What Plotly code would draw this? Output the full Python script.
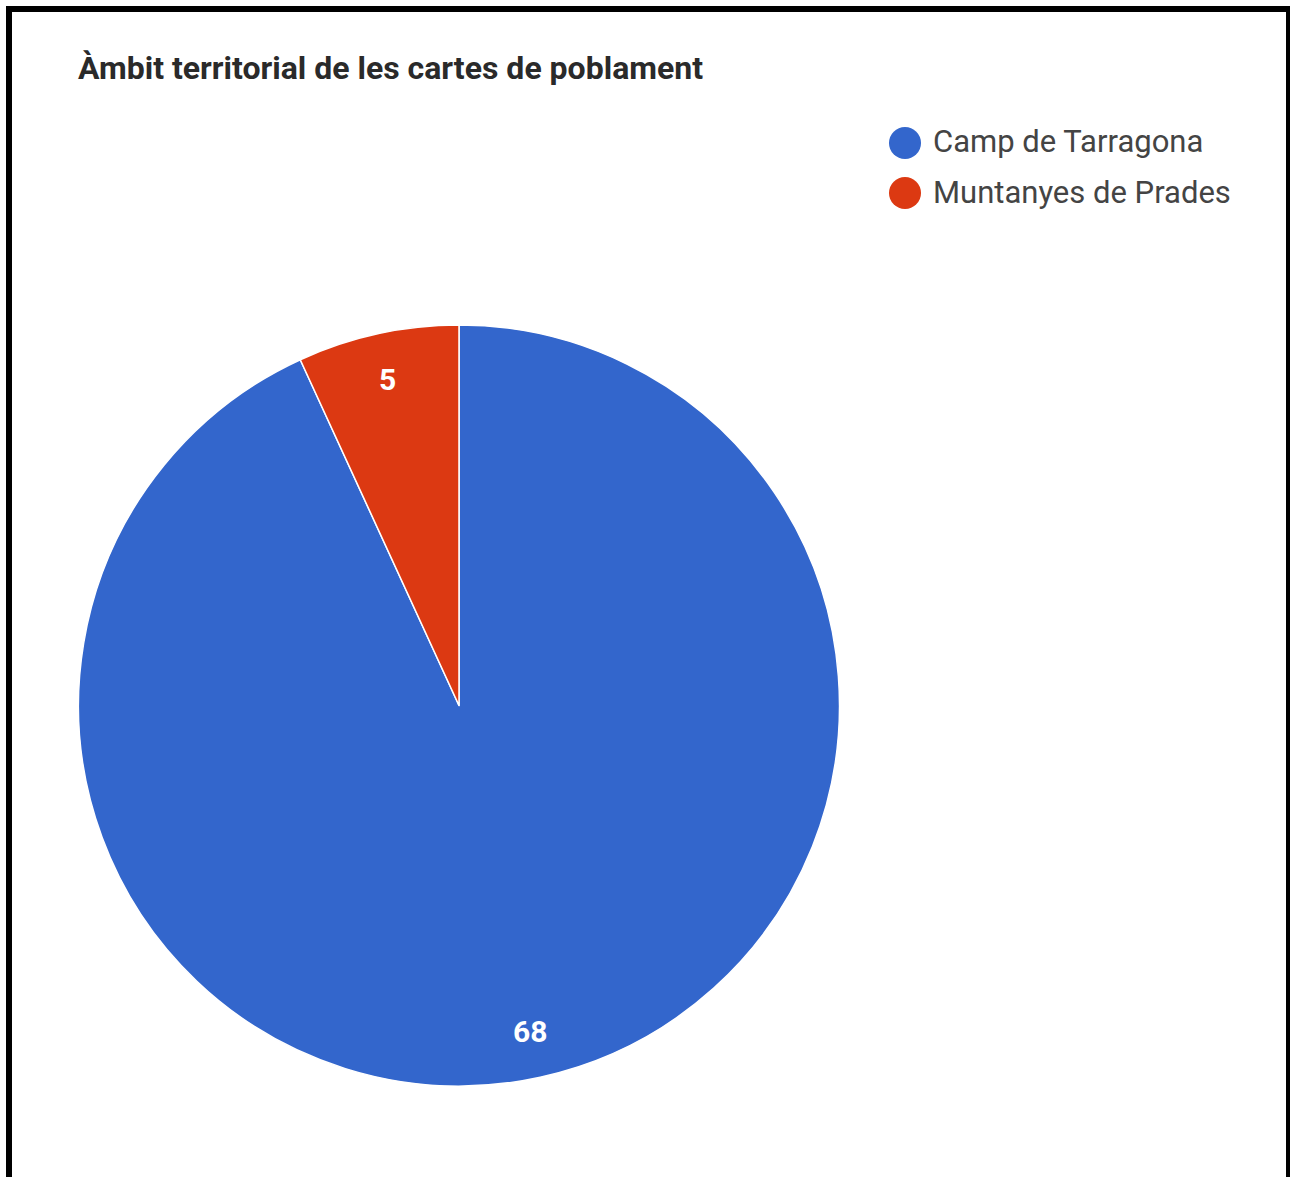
import math
import plotly.graph_objects as go

# ---- data ----
categories = ["Camp de Tarragona", "Muntanyes de Prades"]
values = [68, 5]
colors = ["#3366CC", "#DC3912"]
title_text = "Àmbit territorial de les cartes de poblament"

W, H = 1290, 1177

def px(x):
    return x / W

def py(y):
    return 1 - y / H

# pie placement (pixels)
pie_left, pie_right, pie_top, pie_bottom = 78, 840, 325, 1086

fig = go.Figure()
fig.add_trace(go.Pie(
    labels=categories,
    values=values,
    marker=dict(colors=colors, line=dict(color="white", width=1.5)),
    sort=False,
    direction="clockwise",
    rotation=0,
    textinfo="none",
    hoverinfo="label+value+percent",
    showlegend=False,
    domain=dict(x=[px(pie_left), px(pie_right)], y=[py(pie_bottom), py(pie_top)]),
))

# slice value labels, placed along each slice's mid-angle
cx = (pie_left + pie_right) / 2
cy = (pie_top + pie_bottom) / 2
R = (pie_right - pie_left) / 2
total = sum(values)
annotations = []
start = 0.0
for v in values:
    mid = start + v / total * 360 / 2
    start += v / total * 360
    a = math.radians(mid)
    r = 0.875 * R
    lx = cx + r * math.sin(a)
    ly = cy - r * math.cos(a)
    annotations.append(dict(
        x=px(lx), y=py(ly), xref="paper", yref="paper",
        text=str(v), showarrow=False,
        font=dict(family="Roboto", size=30, color="white", weight="bold"),
        xanchor="center", yanchor="middle",
    ))

# title
annotations.append(dict(
    x=px(76), y=py(68), xref="paper", yref="paper",
    text=title_text, showarrow=False,
    font=dict(family="Roboto", size=32, color="#2a2a2a", weight="bold"),
    xanchor="left", yanchor="middle",
))

# legend (circles + text)
shapes = []
leg_x, leg_y0, leg_dy, leg_r = 905, 143, 50, 16
for i, (cat, col) in enumerate(zip(categories, colors)):
    yy = leg_y0 + i * leg_dy
    shapes.append(dict(
        type="circle", xref="paper", yref="paper",
        x0=px(leg_x - leg_r), x1=px(leg_x + leg_r),
        y0=py(yy + leg_r), y1=py(yy - leg_r),
        fillcolor=col, line=dict(width=0),
    ))
    annotations.append(dict(
        x=px(931), y=py(yy - 1), xref="paper", yref="paper",
        text=cat, showarrow=False,
        font=dict(family="Roboto", size=31, color="#444444"),
        xanchor="left", yanchor="middle",
    ))

# frame
shapes.append(dict(
    type="rect", xref="paper", yref="paper",
    x0=px(9), x1=px(1289), y0=py(1200), y1=py(9),
    line=dict(color="black", width=6), fillcolor="rgba(0,0,0,0)",
))

fig.update_layout(
    width=W, height=H,
    margin=dict(l=0, r=0, t=0, b=0),
    paper_bgcolor="white",
    plot_bgcolor="white",
    annotations=annotations,
    shapes=shapes,
    showlegend=False,
)

fig.write_html(
    "out.html",
    config={"displayModeBar": False},
    post_script="document.body.style.margin='0';document.body.style.padding='0';document.body.style.overflow='hidden';",
)
